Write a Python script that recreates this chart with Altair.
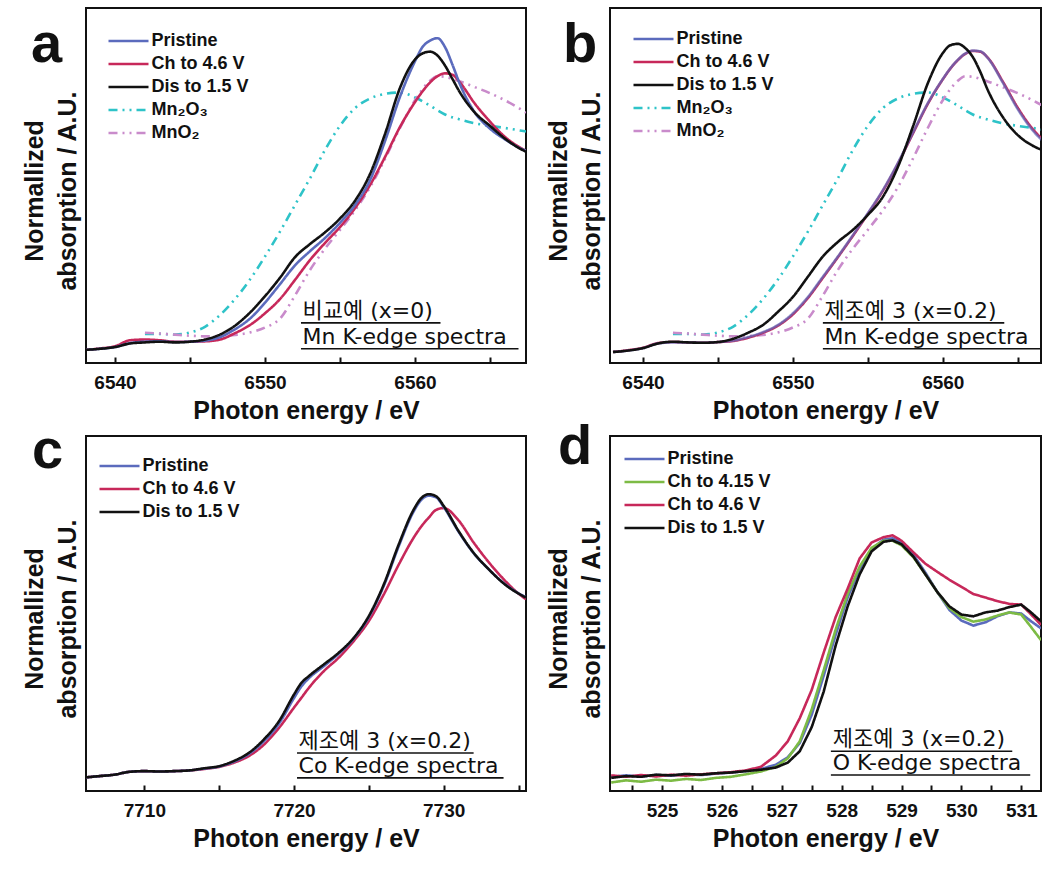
import altair as alt
import pandas as pd

FONT = "Liberation Sans"
NOTE_FONT = "DejaVu Sans, Noto Sans CJK KR"
INK = "#111111"

# ---------------- Mn K-edge (panels a, b) ----------------
MN_E = [6538, 6539, 6540, 6541, 6542, 6543, 6544, 6545, 6546, 6547, 6548, 6549, 6550,
        6551, 6552, 6553, 6554, 6555, 6556, 6557, 6558, 6559, 6560, 6560.5, 6561, 6561.5,
        6562, 6562.5, 6563, 6564, 6565, 6566, 6567, 6567.4]

A_PRISTINE = [0.037, 0.040, 0.045, 0.056, 0.060, 0.061, 0.059, 0.060, 0.063, 0.073, 0.095, 0.125,
              0.170, 0.222, 0.275, 0.315, 0.352, 0.395, 0.445, 0.515, 0.625, 0.750, 0.850, 0.890,
              0.908, 0.915, 0.890, 0.840, 0.785, 0.705, 0.660, 0.630, 0.605, 0.598]
A_CHARGED = [0.037, 0.041, 0.047, 0.064, 0.066, 0.064, 0.060, 0.060, 0.061, 0.066, 0.084, 0.107,
             0.140, 0.180, 0.234, 0.290, 0.338, 0.383, 0.436, 0.501, 0.580, 0.665, 0.735, 0.765,
             0.790, 0.808, 0.816, 0.812, 0.790, 0.730, 0.680, 0.637, 0.607, 0.598]
A_DISCHARGED = [0.037, 0.040, 0.045, 0.055, 0.058, 0.060, 0.058, 0.060, 0.066, 0.080, 0.105, 0.142,
                0.188, 0.240, 0.298, 0.335, 0.368, 0.407, 0.457, 0.532, 0.645, 0.775, 0.855, 0.872,
                0.877, 0.866, 0.838, 0.800, 0.762, 0.705, 0.668, 0.632, 0.604, 0.595]

B_PRISTINE = [0.031, 0.035, 0.042, 0.055, 0.058, 0.058, 0.057, 0.059, 0.063, 0.073, 0.087, 0.107,
              0.140, 0.186, 0.243, 0.300, 0.360, 0.422, 0.487, 0.563, 0.648, 0.732, 0.800, 0.830,
              0.854, 0.872, 0.880, 0.878, 0.859, 0.790, 0.715, 0.655, 0.615, 0.605]
B_CHARGED = [0.031, 0.036, 0.043, 0.056, 0.059, 0.058, 0.057, 0.059, 0.062, 0.071, 0.085, 0.105,
             0.137, 0.183, 0.240, 0.298, 0.358, 0.420, 0.485, 0.561, 0.646, 0.730, 0.799, 0.829,
             0.853, 0.871, 0.879, 0.877, 0.860, 0.793, 0.719, 0.659, 0.618, 0.607]
B_DISCHARGED = [0.031, 0.035, 0.042, 0.055, 0.060, 0.058, 0.057, 0.059, 0.068, 0.085, 0.107, 0.144,
                0.186, 0.243, 0.300, 0.341, 0.375, 0.417, 0.468, 0.552, 0.665, 0.788, 0.873, 0.895,
                0.899, 0.887, 0.862, 0.820, 0.769, 0.693, 0.642, 0.612, 0.595, 0.590]

REF_E = [6542, 6543, 6544, 6545, 6546, 6547, 6548, 6549, 6550, 6551, 6552, 6553, 6554, 6555,
         6556, 6557, 6558, 6559, 6560, 6561, 6561.5, 6562, 6563, 6564, 6565, 6566, 6567, 6567.4]
MN2O3 = [0.082, 0.082, 0.080, 0.086, 0.102, 0.135, 0.180, 0.235, 0.300, 0.370, 0.445, 0.520,
         0.600, 0.668, 0.718, 0.745, 0.758, 0.762, 0.748, 0.725, 0.712, 0.700, 0.686, 0.675,
         0.668, 0.662, 0.655, 0.652]
MNO2 = [0.085, 0.083, 0.080, 0.077, 0.075, 0.076, 0.079, 0.086, 0.100, 0.125, 0.190, 0.262,
        0.322, 0.375, 0.430, 0.495, 0.575, 0.662, 0.740, 0.795, 0.808, 0.806, 0.793, 0.777,
        0.760, 0.740, 0.716, 0.705]

# ---------------- Co K-edge (panel c) ----------------
CO_E = [7706, 7707, 7708, 7709, 7710, 7711, 7712, 7713, 7714, 7715, 7716, 7717, 7718, 7719,
        7720, 7720.5, 7721, 7722, 7723, 7724, 7725, 7726, 7727, 7728, 7728.5, 7729, 7729.5,
        7730, 7731, 7732, 7733, 7734, 7735, 7735.5]
C_PRISTINE = [0.038, 0.042, 0.046, 0.054, 0.056, 0.055, 0.056, 0.058, 0.063, 0.069, 0.083, 0.105,
              0.141, 0.190, 0.262, 0.295, 0.318, 0.352, 0.387, 0.430, 0.490, 0.578, 0.690, 0.788,
              0.820, 0.832, 0.827, 0.800, 0.730, 0.670, 0.625, 0.586, 0.557, 0.546]
C_CHARGED = [0.038, 0.042, 0.046, 0.054, 0.056, 0.055, 0.056, 0.058, 0.062, 0.068, 0.080, 0.099,
             0.131, 0.178, 0.235, 0.263, 0.291, 0.338, 0.376, 0.423, 0.479, 0.554, 0.638, 0.714,
             0.745, 0.770, 0.792, 0.797, 0.762, 0.700, 0.645, 0.597, 0.556, 0.540]
C_DISCHARGED = [0.038, 0.042, 0.046, 0.054, 0.056, 0.055, 0.056, 0.058, 0.064, 0.070, 0.085, 0.108,
                0.146, 0.197, 0.272, 0.305, 0.324, 0.357, 0.390, 0.432, 0.493, 0.582, 0.695, 0.793,
                0.825, 0.836, 0.830, 0.803, 0.732, 0.671, 0.625, 0.585, 0.556, 0.545]

# ---------------- O K-edge (panel d) ----------------
O_E = [524.15, 524.4, 524.65, 524.9, 525.15, 525.4, 525.65, 525.9, 526.15, 526.4, 526.65, 526.9,
       527.1, 527.3, 527.5, 527.7, 527.9, 528.1, 528.3, 528.5, 528.7, 528.85, 529.0, 529.2,
       529.4, 529.6, 529.8, 530.0, 530.2, 530.4, 530.6, 530.8, 531.0, 531.15, 531.33]
D_PRISTINE = [0.040, 0.044, 0.041, 0.045, 0.043, 0.047, 0.045, 0.049, 0.052, 0.056, 0.062, 0.074,
              0.095, 0.135, 0.215, 0.325, 0.440, 0.545, 0.625, 0.682, 0.708, 0.712, 0.700, 0.665,
              0.615, 0.560, 0.510, 0.480, 0.466, 0.475, 0.492, 0.503, 0.500, 0.480, 0.458]
D_CH415 = [0.024, 0.030, 0.026, 0.032, 0.029, 0.034, 0.031, 0.037, 0.040, 0.047, 0.055, 0.068,
           0.092, 0.140, 0.230, 0.340, 0.455, 0.555, 0.632, 0.685, 0.705, 0.705, 0.692, 0.658,
           0.610, 0.560, 0.515, 0.490, 0.477, 0.483, 0.494, 0.503, 0.497, 0.465, 0.425]
D_CH46 = [0.044, 0.040, 0.045, 0.041, 0.046, 0.043, 0.047, 0.050, 0.053, 0.058, 0.068, 0.100,
          0.140, 0.205, 0.285, 0.390, 0.490, 0.570, 0.655, 0.700, 0.715, 0.720, 0.705, 0.672,
          0.640, 0.617, 0.595, 0.575, 0.555, 0.545, 0.535, 0.527, 0.525, 0.500, 0.468]
D_DIS = [0.037, 0.042, 0.040, 0.046, 0.044, 0.048, 0.046, 0.050, 0.052, 0.056, 0.060, 0.066,
         0.080, 0.112, 0.180, 0.280, 0.410, 0.520, 0.610, 0.675, 0.702, 0.706, 0.695, 0.660,
         0.610, 0.560, 0.520, 0.497, 0.492, 0.503, 0.508, 0.518, 0.525, 0.505, 0.478]

# ---------------- series, labels, styles ----------------
S_PRI, S_415, S_46, S_DIS = "Pristine", "Ch to 4.15 V", "Ch to 4.6 V", "Dis to 1.5 V"
S_M23, S_MO2 = "Mn\u2082O\u2083", "MnO\u2082"
C_PRI, C_415, C_46, C_DIS, C_M23, C_MO2 = "#5b6bbd", "#7dbb45", "#c7285a", "#111111", "#2ec3c8", "#c98bcb"
SOLID = [1, 0]
DASHDOT = [9, 5, 2, 5, 2, 5]

MN_TICK_LABELS = [6540, 6550, 6560]
MN_TICKS = [6540, 6545, 6550, 6555, 6560, 6565]
CO_TICK_LABELS = [7710, 7720, 7730]
CO_TICKS = [7710, 7715, 7720, 7725, 7730, 7735]
O_TICK_LABELS = [525, 526, 527, 528, 529, 530, 531]
O_TICKS = [524.5, 525, 525.5, 526, 526.5, 527, 527.5, 528, 528.5, 529, 529.5, 530, 530.5, 531]

Y_TITLE = "Normallized\nabsorption / A.U."
X_TITLE = "Photon energy / eV"
NOTE_A = ["\ube44\uad50\uc608 (x=0)", "Mn K-edge spectra"]
NOTE_B = ["\uc81c\uc870\uc608 3 (x=0.2)", "Mn K-edge spectra"]
NOTE_C = ["\uc81c\uc870\uc608 3 (x=0.2)", "Co K-edge spectra"]
NOTE_D = ["\uc81c\uc870\uc608 3 (x=0.2)", "O K-edge spectra"]

H = 355


def frame(pairs):
    rows = []
    for name, xs, ys in pairs:
        for x, y in zip(xs, ys):
            rows.append({"E": x, "v": y, "series": name})
    return pd.DataFrame(rows)


def panel(df, series, colors, dashes, domain, label_vals, ticks, width, leg_xy,
          letter, letter_xy, notes, note_x, note_y, under, interp, pri_fade=False):
    leg = dict(title=None, orient="none", legendX=leg_xy[0], legendY=leg_xy[1],
               symbolType="M-4,0H4", symbolSize=100, symbolStrokeWidth=2.5,
               labelFont=FONT, labelFontSize=18, labelFontWeight="bold", labelColor=INK,
               rowPadding=5, labelOffset=14, padding=0, symbolOffset=12.5)
    xs = alt.Scale(domain=domain, nice=False, zero=False)
    ys = alt.Scale(domain=[0, 1], nice=False, zero=False)
    enc = dict(
        x=alt.X("E:Q", scale=xs, axis=alt.Axis(
            orient="bottom", values=label_vals, format="d", labelFont=FONT, labelFontSize=19,
            labelFontWeight="bold", labelColor=INK, ticks=False, tickSize=0, domain=False,
            grid=False, labelPadding=10, title=X_TITLE, titleFont=FONT,
            titleFontSize=25, titleFontWeight="bold", titleColor=INK, titlePadding=6)),
        y=alt.Y("v:Q", scale=ys, axis=None),
        color=alt.Color("series:N", scale=alt.Scale(domain=series, range=colors),
                        legend=alt.Legend(**leg)),
        strokeDash=alt.StrokeDash("series:N", scale=alt.Scale(domain=series, range=dashes),
                                  legend=alt.Legend(**leg)),
    )
    if pri_fade:
        enc["strokeOpacity"] = alt.condition(alt.datum.series == S_PRI, alt.value(0.7), alt.value(1))
    lines = alt.Chart(df).mark_line(clip=True, strokeWidth=2.6, interpolate=interp).encode(**enc)

    under_df = pd.DataFrame({"E": [under[0][0], under[1][0]], "E2": [under[0][1], under[1][1]],
                             "v": [under[0][2], under[1][2]]})
    rules = alt.Chart(under_df).mark_rule(color=INK, strokeWidth=1.6, clip=True).encode(
        x=alt.X("E:Q", scale=xs, axis=alt.Axis(
            orient="top", offset=-H, values=ticks, labels=False, domain=False, grid=False,
            ticks=True, tickSize=6, tickWidth=2, tickColor=INK, title=None)),
        x2="E2:Q",
        y=alt.Y("v:Q", scale=ys, axis=None),
    )
    note_df = pd.DataFrame({"E": [note_x, note_x], "v": note_y, "t": notes})
    text = alt.Chart(note_df).mark_text(align="left", baseline="alphabetic", font=NOTE_FONT,
                                        fontSize=22, color=INK, clip=True).encode(
        x=alt.X("E:Q", scale=xs, axis=None), y=alt.Y("v:Q", scale=ys, axis=None), text="t:N")
    let = alt.Chart(pd.DataFrame({"t": [letter]})).mark_text(
        align="left", baseline="alphabetic", font=FONT, fontSize=56, fontWeight="bold",
        color=INK).encode(x=alt.value(letter_xy[0]), y=alt.value(letter_xy[1]), text="t:N")
    ytitle = alt.Chart(pd.DataFrame({"t": [Y_TITLE]})).mark_text(
        angle=270, lineBreak="\n", lineHeight=33, align="center", baseline="middle",
        font=FONT, fontSize=25, fontWeight="bold", color=INK).encode(
        x=alt.value(-51), y=alt.value(183), text="t:N")
    return alt.layer(lines, rules, text, let, ytitle).resolve_axis(x="independent").properties(
        width=width, height=H)


MN_ORDER = [S_PRI, S_46, S_DIS, S_M23, S_MO2]
MN_COLORS = [C_PRI, C_46, C_DIS, C_M23, C_MO2]
MN_DASH = [SOLID, SOLID, SOLID, DASHDOT, DASHDOT]


def mn_frame(pri, ch, dis):
    return frame([(S_M23, REF_E, MN2O3), (S_MO2, REF_E, MNO2), (S_46, MN_E, ch),
                  (S_PRI, MN_E, pri), (S_DIS, MN_E, dis)])


pa = panel(mn_frame(A_PRISTINE, A_CHARGED, A_DISCHARGED), MN_ORDER, MN_COLORS, MN_DASH,
           [6538.07, 6567.4], MN_TICK_LABELS, MN_TICKS, 440, (21, 24), "a", (-55, 54), NOTE_A,
           6552.5, [0.127, 0.053], [(6552.4, 6561.7, 0.113), (6552.4, 6566.9, 0.040)], "monotone")
pb = panel(mn_frame(B_PRISTINE, B_CHARGED, B_DISCHARGED), MN_ORDER, MN_COLORS, MN_DASH,
           [6537.8, 6566.55], MN_TICK_LABELS, MN_TICKS, 431, (22, 22), "b", (-47, 54), NOTE_B,
           6552.1, [0.127, 0.053], [(6552.0, 6564.1, 0.113), (6552.0, 6567.0, 0.040)], "monotone",
           pri_fade=True)

co_df = frame([(S_46, CO_E, C_CHARGED), (S_PRI, CO_E, C_PRISTINE), (S_DIS, CO_E, C_DISCHARGED)])
pc = panel(co_df, [S_PRI, S_46, S_DIS], [C_PRI, C_46, C_DIS], [SOLID, SOLID, SOLID],
           [7706.1, 7735.5], CO_TICK_LABELS, CO_TICKS, 440, (12, 21), "c", (-54, 32), NOTE_C,
           7720.3, [0.122, 0.050], [(7720.2, 7732.0, 0.107), (7720.2, 7734.0, 0.037)],
           "monotone")

o_df = frame([(S_PRI, O_E, D_PRISTINE), (S_415, O_E, D_CH415), (S_46, O_E, D_CH46), (S_DIS, O_E, D_DIS)])
pd_ = panel(o_df, [S_PRI, S_415, S_46, S_DIS], [C_PRI, C_415, C_46, C_DIS],
            [SOLID, SOLID, SOLID, SOLID], [524.13, 531.33], O_TICK_LABELS, O_TICKS, 431,
            (13, 14), "d", (-52, 28), NOTE_D, 527.85, [0.127, 0.058],
            [(527.82, 530.85, 0.112), (527.82, 531.15, 0.045)], "linear")

chart = alt.concat(pa, pb, pc, pd_, columns=2, spacing={"row": 73, "column": 84},
                   bounds="flush").resolve_scale(
    color="independent", strokeDash="independent", x="independent", y="independent"
).resolve_legend(color="independent", strokeDash="independent").properties(
    padding={"left": 22, "top": 7, "right": 0, "bottom": 0}, background="white"
).configure_view(stroke=INK, strokeWidth=2)

chart.save("out.html", embed_options={"renderer": "svg", "actions": False})
